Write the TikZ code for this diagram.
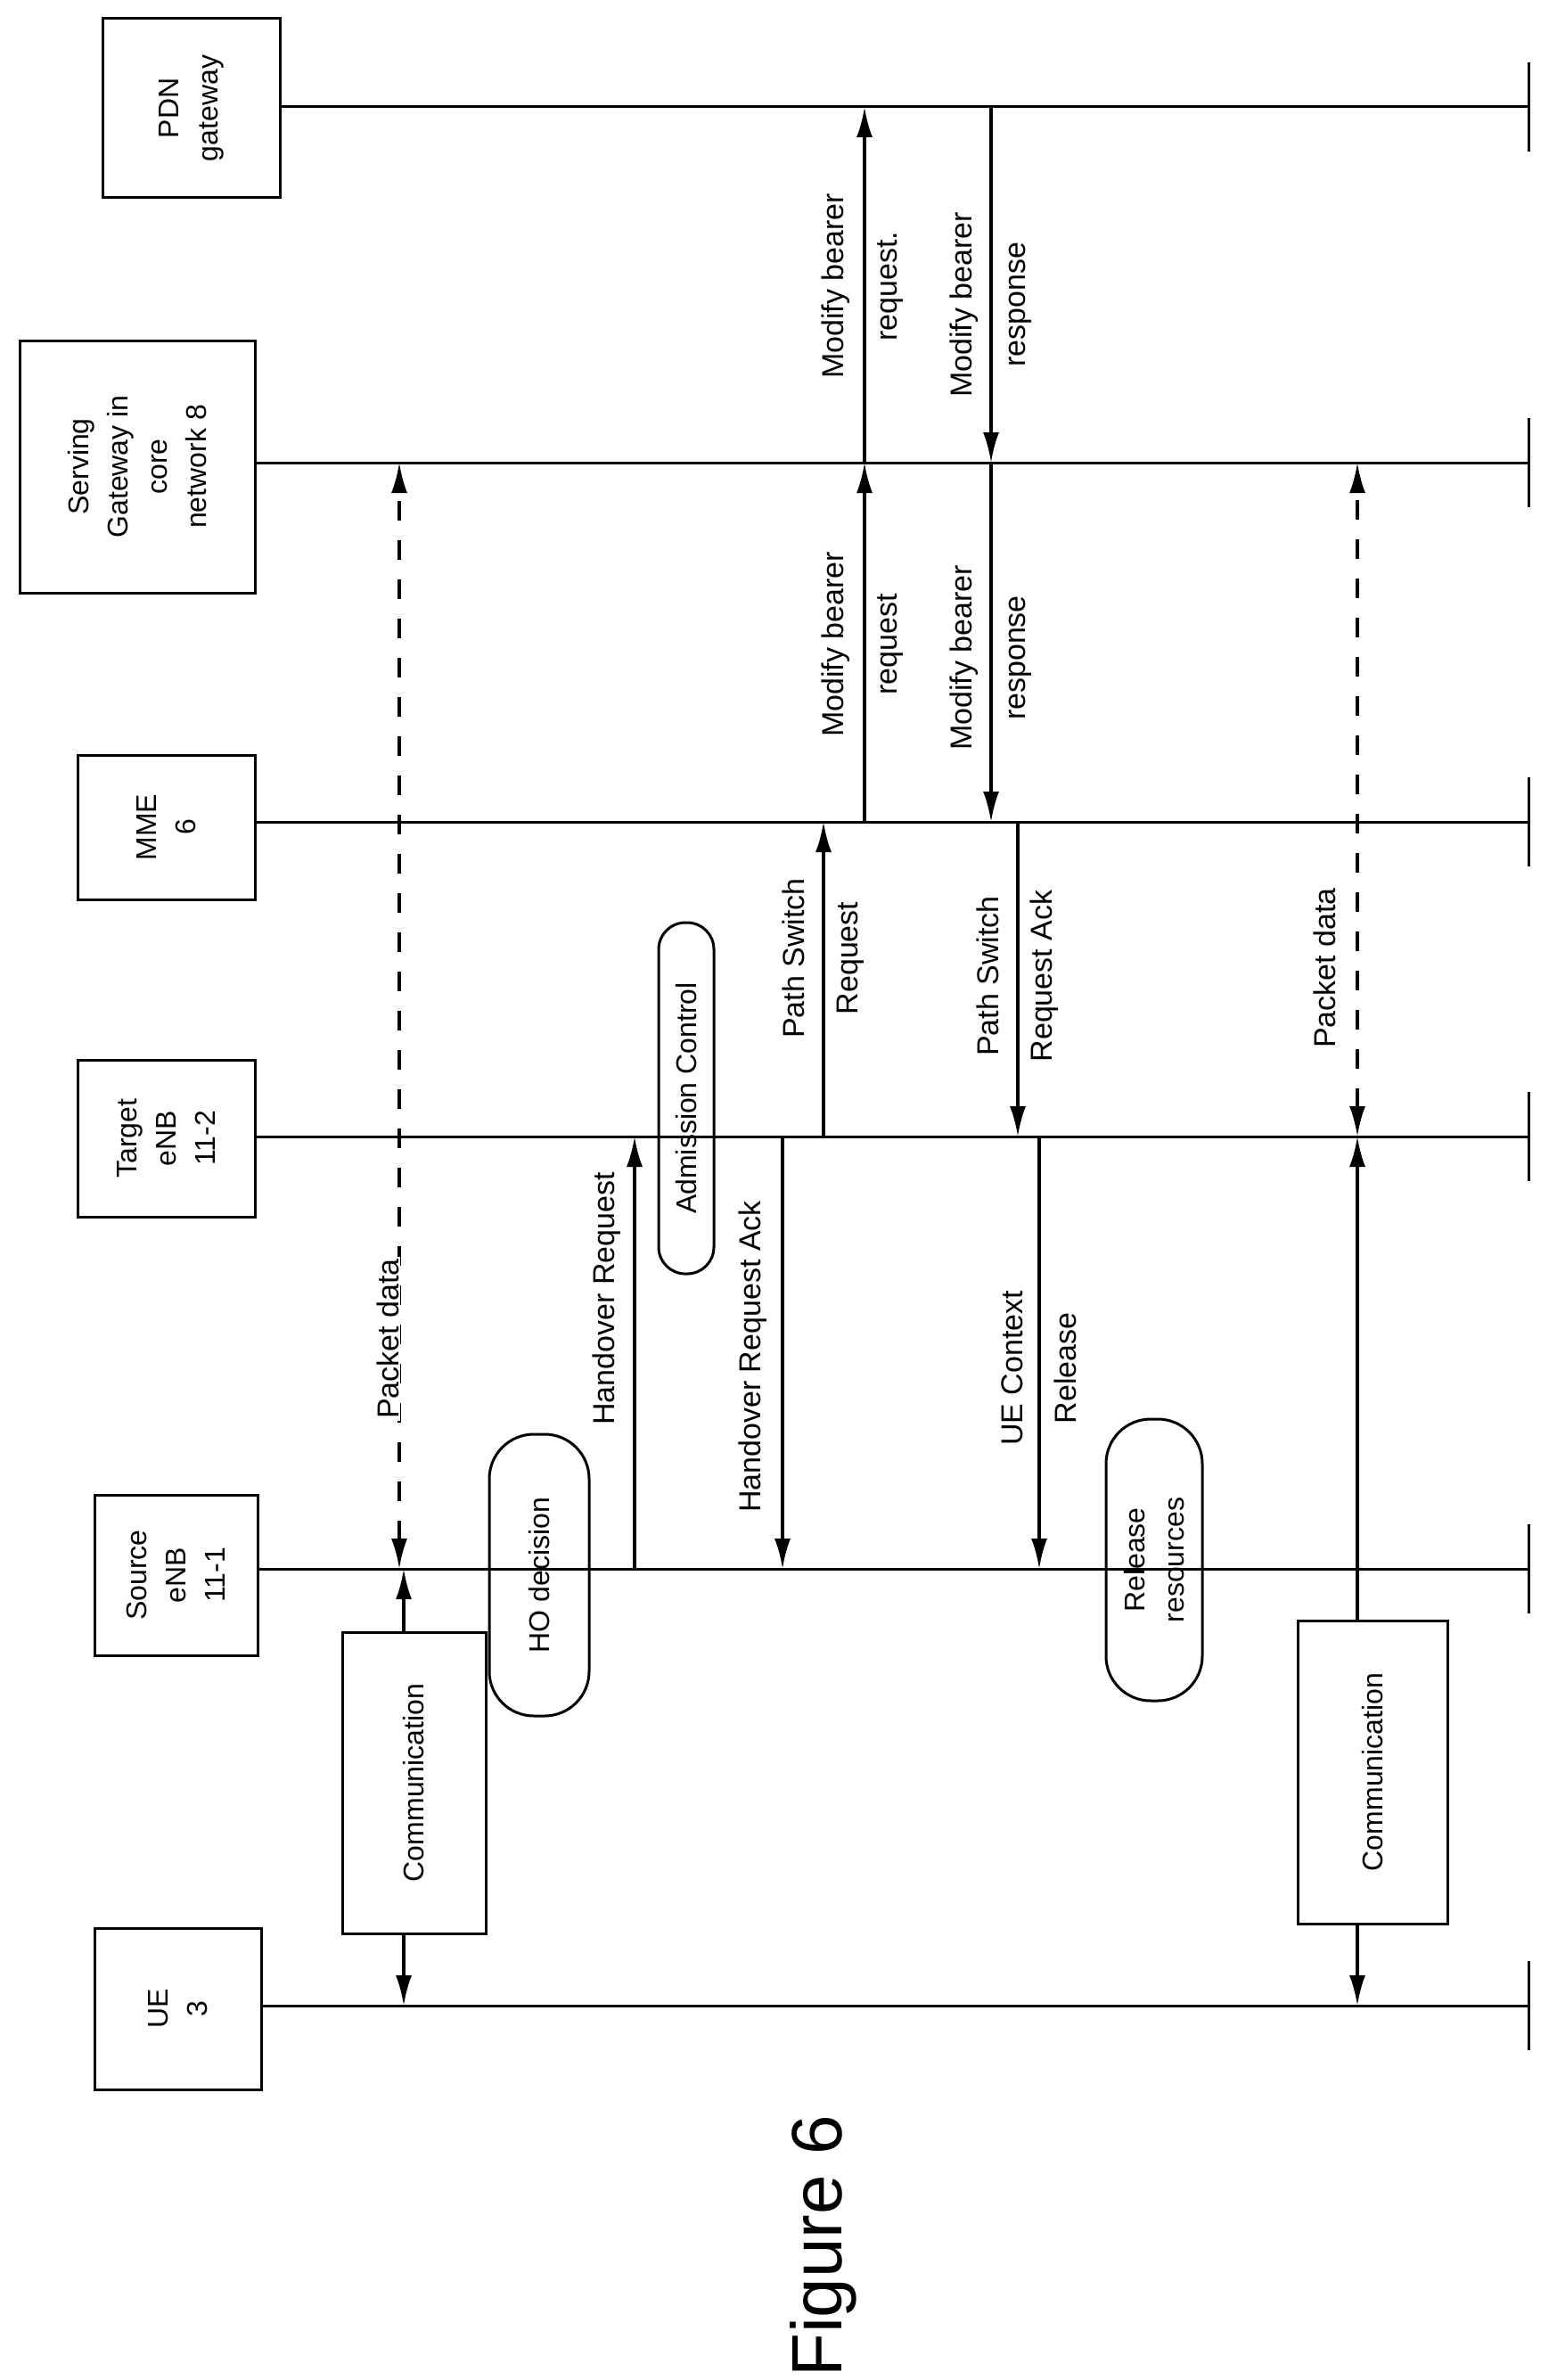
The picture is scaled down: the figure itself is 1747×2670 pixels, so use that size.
\documentclass[tikz,border=0pt]{standalone}
\usepackage{fontspec}
\setmainfont{Liberation Sans}
\usetikzlibrary{arrows.meta}
\begin{document}
\begin{tikzpicture}[x=1pt,y=1pt,
  every node/.style={font=\fontsize{34}{60}\selectfont},
  box/.style={draw,line width=3pt,rotate=90,align=center,inner sep=0pt,font=\fontsize{32}{44}\selectfont},
  proc/.style={draw,line width=3pt,rotate=90,align=center,rounded corners=50pt,inner sep=0pt,font=\fontsize{32}{44}\selectfont},
  life/.style={line width=3pt},
  msg/.style={line width=3.5pt,-{Latex[length=34pt,width=18pt]}},
  dmsg/.style={line width=3.5pt,dash pattern=on 22pt off 22pt,{Latex[length=34pt,width=18pt]}-{Latex[length=34pt,width=18pt]}},
  lab/.style={rotate=90,align=center,inner sep=2pt},
  tick/.style={line width=3pt}]
\useasboundingbox (0,0) rectangle (1747,-2670);
% lifeline heads
\node[box,minimum width=201pt,minimum height=199pt] (pdn) at (214.5,-121.5) {PDN\\gateway};
\node[box,minimum width=283pt,minimum height=264pt] (sgw) at (154,-523.5) {Serving\\Gateway in\\core\\network 8};
\node[box,minimum width=162pt,minimum height=199pt] (mme) at (186.5,-928) {MME\\6};
\node[box,minimum width=176pt,minimum height=199pt] (tgt) at (186.5,-1277) {Target\\eNB\\11-2};
\node[box,minimum width=180pt,minimum height=183pt] (src) at (197.5,-1767) {Source\\eNB\\11-1};
\node[box,minimum width=181pt,minimum height=187pt] (ue) at (199.5,-2253.5) {UE\\3};
% lifeline ends
\foreach \n/\y in {pdn/120,sgw/519,mme/922,tgt/1275,src/1760,ue/2250}{
  \coordinate (\n end) at (1715,-\y);
  \draw[life] (\n.south |- \n end) -- (\n end);
  \draw[tick] (1715,-\y+50) -- (1715,-\y-50);
}
% Communication 1
\node[box,minimum width=338pt,minimum height=161pt] (com1) at (464.5,-2000) {Communication};
\coordinate (c1s) at (453,-1760); \coordinate (c1u) at (453,-2250);
\draw[msg] (com1.east -| c1s) -- (c1s);
\draw[msg] (com1.west -| c1u) -- (c1u);
\coordinate (p1a) at (448,-1760); \coordinate (p1b) at (448,-519);
\draw[dmsg] (p1a) -- (p1b);
\node[lab,fill=white] (pd1) at (435,-1502) {Packet data};
% HO decision
\node[proc,minimum width=316pt,minimum height=112pt] (hod) at (605,-1767) {HO decision};
% Handover request
\coordinate (hr1) at (712,-1760); \coordinate (hr2) at (712,-1275);
\draw[msg] (hr1) -- (hr2);
\node[lab] (hrl) at (681,-1457) {Handover Request};
% Admission control
\node[proc,minimum width=394pt,minimum height=62pt,rounded corners=30pt] (adm) at (770,-1232) {Admission Control};
% Handover request ack
\coordinate (ha1) at (878,-1275); \coordinate (ha2) at (878,-1760);
\draw[msg] (ha1) -- (ha2);
\node[lab] (hal) at (845,-1522) {Handover Request Ack};
% Path switch request
\coordinate (ps1) at (924,-1275); \coordinate (ps2) at (924,-922);
\draw[msg] (ps1) -- (ps2);
\node[lab] (psl) at (924,-1075) {Path Switch\\Request};
% Modify bearer request
\coordinate (mb1) at (970,-922); \coordinate (mb2) at (970,-519); \coordinate (mb3) at (970,-120);
\draw[msg] (mb1) -- (mb2);
\draw[msg] (mb2) -- (mb3);
\node[lab] (mbl1) at (968,-723) {Modify bearer\\request};
\node[lab] (mbl2) at (968,-321) {Modify bearer\\request.};
% Modify bearer response
\coordinate (mr1) at (1112,-120); \coordinate (mr2) at (1112,-519); \coordinate (mr3) at (1112,-922);
\draw[msg] (mr1) -- (mr2);
\draw[msg] (mr2) -- (mr3);
\node[lab] (mrl1) at (1112,-342) {Modify bearer\\response};
\node[lab] (mrl2) at (1112,-738) {Modify bearer\\response};
% Path switch request ack
\coordinate (pa1) at (1142,-922); \coordinate (pa2) at (1142,-1275);
\draw[msg] (pa1) -- (pa2);
\node[lab] (pal) at (1142,-1095) {Path Switch\\Request Ack};
% UE context release
\coordinate (ucr1) at (1166,-1275); \coordinate (ucr2) at (1166,-1760);
\draw[msg] (ucr1) -- (ucr2);
\node[lab] (ucl) at (1166,-1535) {UE Context\\Release};
% Release resources
\node[proc,minimum width=316pt,minimum height=108pt] (rel) at (1295,-1750) {Release\\resources};
% Communication 2
\node[box,minimum width=340pt,minimum height=168pt] (com2) at (1540,-1988) {Communication};
\coordinate (c2t) at (1523,-1275); \coordinate (c2u) at (1523,-2250);
\draw[msg] (com2.east -| c2t) -- (c2t);
\draw[msg] (com2.west -| c2u) -- (c2u);
\coordinate (p2a) at (1523,-1275); \coordinate (p2b) at (1523,-519);
\draw[dmsg] (p2a) -- (p2b);
\node[lab] (pd2) at (1486,-1086) {Packet data};
% caption
\node[rotate=90,font=\fontsize{80}{90}\selectfont] (fig) at (924,-2520) {Figure 6};
\end{tikzpicture}
\end{document}
